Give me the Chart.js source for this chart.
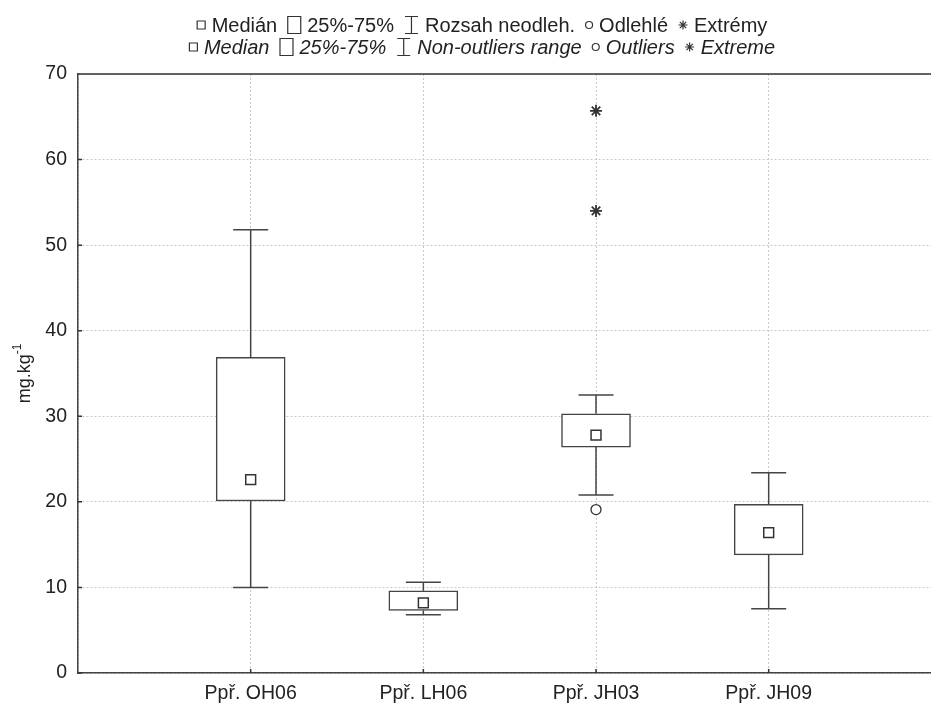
<!DOCTYPE html>
<html>
<head>
<meta charset="utf-8">
<script src="https://cdn.jsdelivr.net/npm/chart.js@4.4.1/dist/chart.umd.min.js"></script>
<style>
  html, body { margin: 0; padding: 0; background: #fff; }
  #obal { width: 931px; height: 707px; }
</style>
</head>
<body>
<div id="obal"><canvas id="BoxChart"></canvas></div>
<script>
// data vycteny z obrazku
const kategorie = ['Ppř. OH06', 'Ppř. LH06', 'Ppř. JH03', 'Ppř. JH09'];
const medianHodnoty = [22.6, 8.2, 27.8, 16.4];
const q1Hodnoty = [20.1, 7.3, 26.4, 13.8];
const q3Hodnoty = [36.9, 9.6, 30.3, 19.7];
const minHodnoty = [10.0, 6.8, 20.8, 7.5];
const maxHodnoty = [51.8, 10.6, 32.5, 23.4];
const odlehleKat = [3];
const odlehleY = [19.1];
const extremyKat = [3, 3];
const extremyY = [54.0, 65.7];
const yTicks = [0, 10, 20, 30, 40, 50, 60, 70];

const legendaCZ = ['Medián', '25%-75%', 'Rozsah neodleh.', 'Odlehlé', 'Extrémy'];
const legendaEN = ['Median', '25%-75%', 'Non-outliers range', 'Outliers', 'Extreme'];
const legendaZnaky = ['median', 'box', 'whisker', 'circle', 'star'];

const FONT = '"Liberation Sans", Arial, sans-serif';
const CARA = '#444';

function znak(ctx, typ, x, yc) {
    // vraci sirku znaku
    ctx.save();
    ctx.strokeStyle = '#333';
    ctx.lineWidth = 1.2;
    ctx.beginPath();
    let w = 0;
    if (typ === 'median') {
        ctx.rect(x + 0.5, yc - 4, 8, 8); w = 9;
    } else if (typ === 'box') {
        ctx.rect(x + 0.5, yc - 8.5, 13, 17); w = 14;
    } else if (typ === 'whisker') {
        ctx.moveTo(x + 1, yc - 8.5); ctx.lineTo(x + 14, yc - 8.5);
        ctx.moveTo(x + 7.5, yc - 8.5); ctx.lineTo(x + 7.5, yc + 8.5);
        ctx.moveTo(x + 1, yc + 8.5); ctx.lineTo(x + 14, yc + 8.5);
        w = 15;
    } else if (typ === 'circle') {
        ctx.arc(x + 4, yc, 3.5, 0, Math.PI * 2); w = 8;
    } else if (typ === 'star') {
        const r = 4.5;
        for (let k = 0; k < 4; k++) {
            const a = k * Math.PI / 4;
            ctx.moveTo(x + 5 - r * Math.cos(a), yc - r * Math.sin(a));
            ctx.lineTo(x + 5 + r * Math.cos(a), yc + r * Math.sin(a));
        }
        w = 10;
    }
    ctx.stroke();
    ctx.restore();
    return w;
}

function radekLegendy(ctx, texty, font, stredX, baseline) {
    ctx.font = font;
    const mezera1 = 6, mezera2 = 10;
    let celkem = 0;
    const sirkyZnaku = [9, 14, 15, 8, 10];
    texty.forEach((t, i) => {
        celkem += sirkyZnaku[i] + mezera1 + ctx.measureText(t).width;
        if (i < texty.length - 1) celkem += mezera2;
    });
    let x = stredX - celkem / 2;
    const yc = baseline - 7;
    texty.forEach((t, i) => {
        x += znak(ctx, legendaZnaky[i], x, yc) + mezera1;
        ctx.fillStyle = '#222';
        ctx.textBaseline = 'alphabetic';
        ctx.textAlign = 'left';
        ctx.font = font;
        ctx.fillText(t, x, baseline);
        x += ctx.measureText(t).width + mezera2;
    });
}

const boxPlugin = {
    id: 'boxPlugin',
    afterDatasetsDraw(chart) {
        const ctx = chart.ctx;
        const xs = chart.scales.x;
        const ys = chart.scales.y;
        ctx.save();
        ctx.strokeStyle = CARA;
        ctx.lineWidth = 1.5;
        kategorie.forEach((k, i) => {
            const x = xs.getPixelForValue(i + 1);
            const yMax = ys.getPixelForValue(maxHodnoty[i]);
            const yMin = ys.getPixelForValue(minHodnoty[i]);
            const yQ3 = ys.getPixelForValue(q3Hodnoty[i]);
            const yQ1 = ys.getPixelForValue(q1Hodnoty[i]);
            ctx.beginPath();
            ctx.moveTo(x, yQ3); ctx.lineTo(x, yMax);
            ctx.moveTo(x - 17.5, yMax); ctx.lineTo(x + 17.5, yMax);
            ctx.moveTo(x, yQ1); ctx.lineTo(x, yMin);
            ctx.moveTo(x - 17.5, yMin); ctx.lineTo(x + 17.5, yMin);
            ctx.stroke();
        });
        ctx.restore();
    },
    afterDraw(chart) {
        const ctx = chart.ctx;
        const a = chart.chartArea;
        const xs = chart.scales.x;
        const ys = chart.scales.y;
        ctx.save();
        // horni okraj
        ctx.strokeStyle = '#333';
        ctx.lineWidth = 1.5;
        ctx.beginPath();
        ctx.moveTo(a.left, a.top); ctx.lineTo(a.right, a.top);
        // vnitrni carky os
        yTicks.forEach(v => {
            const y = ys.getPixelForValue(v);
            ctx.moveTo(a.left, y); ctx.lineTo(a.left + 4, y);
        });
        kategorie.forEach((k, i) => {
            const x = xs.getPixelForValue(i + 1);
            ctx.moveTo(x, a.bottom); ctx.lineTo(x, a.bottom - 4);
        });
        ctx.stroke();

        // nazev osy y s hornim indexem
        ctx.fillStyle = '#222';
        ctx.translate(25, (a.top + a.bottom) / 2);
        ctx.rotate(-Math.PI / 2);
        ctx.font = '18px ' + FONT;
        const w1 = ctx.measureText('mg.kg').width;
        ctx.font = '12px ' + FONT;
        const w2 = ctx.measureText('-1').width;
        ctx.textBaseline = 'middle';
        ctx.textAlign = 'left';
        ctx.font = '18px ' + FONT;
        ctx.fillText('mg.kg', -(w1 + w2) / 2, 0);
        ctx.font = '12px ' + FONT;
        ctx.fillText('-1', -(w1 + w2) / 2 + w1, -7);
        ctx.restore();

        // legenda
        radekLegendy(ctx, legendaCZ, '20px ' + FONT, 482, 32);
        radekLegendy(ctx, legendaEN, 'italic 20px ' + FONT, 482, 54);
    }
};

new Chart(document.getElementById('BoxChart'), {
    type: 'bar',
    data: {
        datasets: [
            {
                type: 'bar',
                order: 5,
                data: q1Hodnoty.map((q, i) => ({ x: i + 1, y: [q, q3Hodnoty[i]] })),
                backgroundColor: '#fff',
                borderColor: CARA,
                borderWidth: 1.5,
                borderSkipped: false,
                barThickness: 69,
                grouped: false
            },
            {
                type: 'scatter',
                order: 1,
                data: medianHodnoty.map((m, i) => ({ x: i + 1, y: m })),
                pointStyle: 'rect',
                pointRadius: 7,
                pointBackgroundColor: '#fff',
                pointBorderColor: '#333',
                pointBorderWidth: 1.5
            },
            {
                type: 'scatter',
                order: 1,
                data: odlehleY.map((v, i) => ({ x: odlehleKat[i], y: v })),
                pointStyle: 'circle',
                pointRadius: 5,
                pointBackgroundColor: '#fff',
                pointBorderColor: '#333',
                pointBorderWidth: 1.3
            },
            {
                type: 'scatter',
                order: 1,
                data: extremyY.map((v, i) => ({ x: extremyKat[i], y: v })),
                pointStyle: 'star',
                pointRadius: 6,
                pointBorderColor: '#333',
                pointBorderWidth: 1.8
            }
        ]
    },
    options: {
        responsive: true,
        maintainAspectRatio: false,
        animation: false,
        devicePixelRatio: 1,
        layout: { autoPadding: false, padding: { top: 74, right: 0, bottom: 0, left: 0 } },
        plugins: {
            legend: { display: false },
            tooltip: { enabled: false }
        },
        scales: {
            x: {
                type: 'linear',
                offset: false,
                min: 0,
                max: 4.94,
                afterBuildTicks: s => { s.ticks = [0, 1, 2, 3, 4].map(v => ({ value: v })); },
                afterFit: s => { s.height = 34; s.paddingRight = 0; s.paddingLeft = 0; },
                ticks: {
                    callback: v => kategorie[v - 1] || '',
                    font: { family: FONT, size: 19.5 },
                    color: '#222',
                    padding: 9,
                    maxRotation: 0,
                    autoSkip: false
                },
                grid: { color: '#c8c8c8', drawTicks: false, offset: false },
                border: { color: CARA, width: 1.5, dash: [2, 2] }
            },
            y: {
                min: 0,
                max: 70,
                afterBuildTicks: s => { s.ticks = yTicks.map(v => ({ value: v })); },
                afterFit: s => { s.width = 78; s.paddingTop = 0; s.paddingBottom = 0; },
                ticks: {
                    font: { family: FONT, size: 19.5 },
                    color: '#222',
                    padding: 11
                },
                grid: { color: '#c8c8c8', drawTicks: false },
                border: { color: CARA, width: 1.5, dash: [2, 2] }
            }
        }
    },
    plugins: [boxPlugin]
});
</script>
</body>
</html>
